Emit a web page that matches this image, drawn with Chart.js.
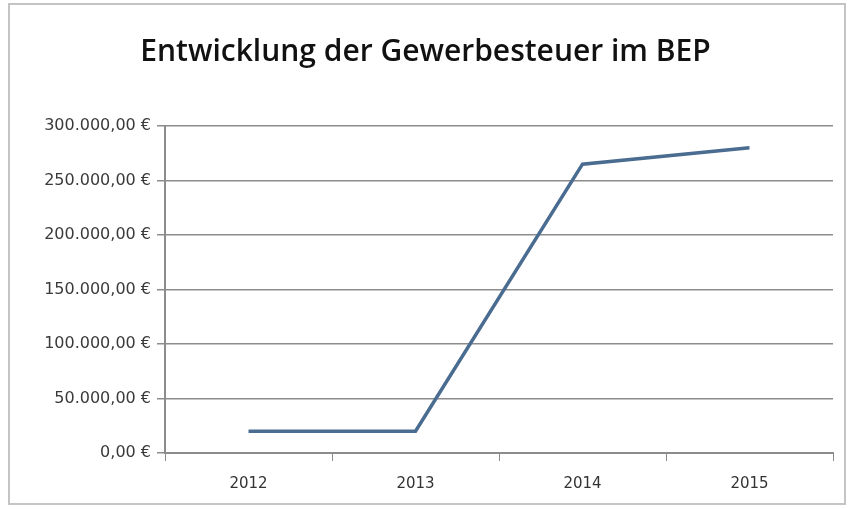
<!DOCTYPE html>
<html>
<head>
<meta charset="utf-8">
<script src="https://cdn.jsdelivr.net/npm/chart.js@4"></script>
<style>
  body { margin: 0; background: #fff; }
  #wrap { position: relative; width: 854px; height: 509px; }
  #frame { position: absolute; left: 8px; top: 3px; width: 838px; height: 502px; border: 2px solid #c4c4c4; box-sizing: border-box; pointer-events: none; }
</style>
</head>
<body>
<div id="wrap">
  <canvas id="linie" width="854" height="509"></canvas>
  <div id="frame"></div>
</div>
<script>
// Daten
const jahre = ["2012", "2013", "2014", "2015"];
const gewerbesteuer = [20000, 20000, 265000, 280000];
const yTicks = [0, 50000, 100000, 150000, 200000, 250000, 300000];

const euro = (v) =>
  v.toLocaleString("de-DE", { minimumFractionDigits: 2, maximumFractionDigits: 2 }) + " €";

const CHART = document.querySelector("#linie");

let linie = new Chart(CHART, {
  type: "line",
  data: {
    labels: jahre,
    datasets: [
      {
        label: "Gewerbesteuer",
        data: gewerbesteuer,
        borderColor: "#4a6c90",
        borderWidth: 3.5,
        pointRadius: 0,
        tension: 0,
      },
    ],
  },
  options: {
    responsive: false,
    animation: false,
    layout: { padding: { left: 18, right: 21, top: 0, bottom: 2 } },
    plugins: {
      legend: { display: false },
      tooltip: { enabled: false },
      title: {
        display: true,
        text: "Entwicklung der Gewerbesteuer im BEP",
        color: "#111",
        font: { family: "Open Sans", size: 30, weight: "600" },
        padding: { top: 34, bottom: 56 },
      },
    },
    scales: {
      x: {
        offset: true,
        grid: {
          offset: true,
          drawOnChartArea: false,
          color: "#8c8c8c",
          tickLength: 8,
        },
        border: { color: "#8c8c8c", width: 2 },
        ticks: {
          color: "#333",
          font: { family: "DejaVu Sans", size: 15 },
          padding: 14,
        },
      },
      y: {
        min: 0,
        max: 300000,
        afterBuildTicks: (scale) => {
          scale.ticks = yTicks.map((v) => ({ value: v }));
        },
        afterFit: (scale) => {
          scale.width = 147;
        },
        grid: {
          color: "#8c8c8c",
          lineWidth: 1.5,
          tickLength: 8,
        },
        border: { color: "#8c8c8c", width: 2 },
        ticks: {
          color: "#3a3a3a",
          font: { family: "DejaVu Sans", size: 16 },
          padding: 6,
          callback: (v) => euro(v),
        },
      },
    },
  },
});
</script>
</body>
</html>
